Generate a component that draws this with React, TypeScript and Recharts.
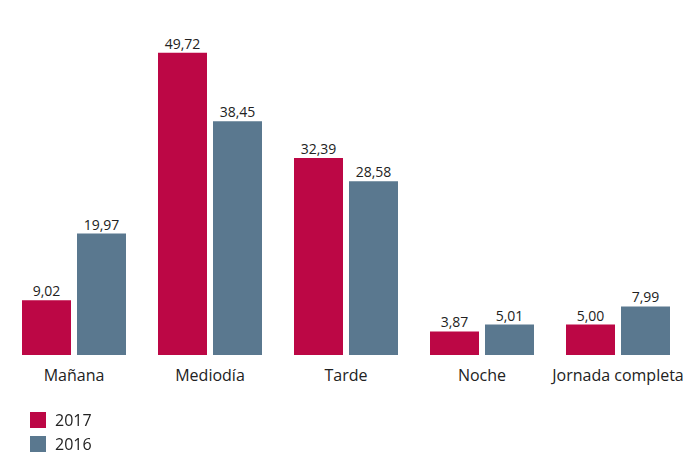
import React from 'react';
import { BarChart, Bar, XAxis, YAxis, LabelList, Legend } from 'recharts';

const categories = ['Mañana', 'Mediodía', 'Tarde', 'Noche', 'Jornada completa'];
const values2017 = [9.02, 49.72, 32.39, 3.87, 5.0];
const values2016 = [19.97, 38.45, 28.58, 5.01, 7.99];

const RED = '#bc0745';
const BLUE = '#5a788f';

const data = categories.map((name, i) => ({ name, y2017: values2017[i], y2016: values2016[i] }));

const fmt = (v: any) => Number(v).toFixed(2).replace('.', ',');

const LegendBox = () => (
  <div style={{ fontFamily: '"Open Sans", sans-serif', fontSize: 16, color: '#222' }}>
    {[
      { label: '2017', color: RED },
      { label: '2016', color: BLUE },
    ].map((item) => (
      <div key={item.label} style={{ display: 'flex', alignItems: 'center', height: 24 }}>
        <span style={{ display: 'inline-block', width: 16, height: 16, background: item.color, marginRight: 9 }} />
        <span>{item.label}</span>
      </div>
    ))}
  </div>
);

export default function App() {
  return (
    <div style={{ position: 'fixed', top: 0, left: 0, background: '#fff' }}>
      <BarChart
        width={690}
        height={455}
        data={data}
        margin={{ top: 51, right: 4, bottom: 22, left: 6 }}
        barCategoryGap={16}
        barGap={6}
      >
        <XAxis
          dataKey="name"
          axisLine={false}
          tickLine={false}
          interval={0}
          height={30}
          tickMargin={9}
          tick={{ fontSize: 16, fill: '#222', fontFamily: '"Open Sans", sans-serif' }}
        />
        <YAxis hide domain={[0, 50]} />
        <Legend
          verticalAlign="bottom"
          align="left"
          content={() => <LegendBox />}
          wrapperStyle={{ left: 30, bottom: -1, width: 'auto' }}
        />
        <Bar dataKey="y2017" fill={RED} isAnimationActive={false}>
          <LabelList dataKey="y2017" position="top" offset={4} formatter={fmt}
            style={{ fontSize: 14, fill: '#222', fontFamily: '"Open Sans", sans-serif' }} />
        </Bar>
        <Bar dataKey="y2016" fill={BLUE} isAnimationActive={false}>
          <LabelList dataKey="y2016" position="top" offset={4} formatter={fmt}
            style={{ fontSize: 14, fill: '#222', fontFamily: '"Open Sans", sans-serif' }} />
        </Bar>
      </BarChart>
    </div>
  );
}
